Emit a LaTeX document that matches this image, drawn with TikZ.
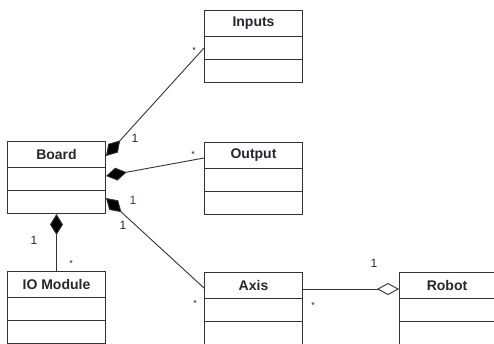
\documentclass[tikz,border=0pt]{standalone}
\usepackage{fontspec}
\setmainfont{Liberation Sans}
\usetikzlibrary{arrows.meta}
\definecolor{ln}{HTML}{333333}
\definecolor{tx}{HTML}{262630}
\definecolor{pu}{HTML}{6A2A5A}
\tikzset{
  cls/.style={draw=ln, line width=1pt, rectangle, minimum width=98pt, minimum height=72pt, anchor=north west, inner sep=0pt},
  ttl/.style={font=\fontsize{14}{16}\selectfont\bfseries, text=tx, inner sep=0pt},
  mult/.style={font=\fontsize{12}{14}\selectfont, text=tx, inner sep=0pt},
  star/.style={font=\fontsize{9}{10}\selectfont, text=tx, inner sep=0pt},
  conn/.style={draw=ln, line width=0.9pt},
  comp/.style={{Diamond[length=21pt,width=13pt,fill=black]}-},
  agg/.style={-{Diamond[open,length=22pt,width=12pt]}}
}
\newcommand{\compartments}[1]{%
  \draw[draw=ln, line width=1pt] ([yshift=-26pt]#1.north west) -- ([yshift=-26pt]#1.north east);
  \draw[draw=ln, line width=1pt] ([yshift=-49pt]#1.north west) -- ([yshift=-49pt]#1.north east);
}
\begin{document}
\begin{tikzpicture}[x=1pt,y=-1pt]
\clip (0,0) rectangle (494,343);
\fill[white] (0,0) rectangle (494,343);
% class boxes
\node[cls] (inputs) at (204,10) {};
\node[cls] (output) at (204,142) {};
\node[cls] (board) at (7,141) {};
\node[cls] (iomod) at (7,271) {};
\node[cls] (axis) at (204,272) {};
\node[cls] (robot) at (399,272) {};
\compartments{inputs}
\compartments{output}
\compartments{board}
\compartments{iomod}
\compartments{axis}
\compartments{robot}
% titles
\node[ttl] (tInputs) at ([yshift=-13pt]inputs.north) {Inputs};
\node[ttl] (tOutput) at ([yshift=-13pt]output.north) {Output};
\node[ttl] (tBoard) at ([yshift=-13pt]board.north) {Board};
\node[ttl] (tIO) at ([yshift=-13pt]iomod.north) {IO Module};
\node[ttl] (tAxis) at ([yshift=-13pt]axis.north) {Axis};
\node[ttl] (tRobot) at ([yshift=-13pt]robot.north west) [anchor=center, xshift=48pt] {Robot};
% connectors
\draw[conn, comp] ([yshift=-15pt]board.north east) -- ([yshift=-38pt]inputs.north west);
\draw[conn, comp] ([yshift=-35pt]board.north east) -- ([yshift=-16pt]output.north west);
\draw[conn, comp] ([yshift=-57pt]board.north east) -- ([yshift=-16pt]axis.north west);
\draw[conn, {Diamond[length=21pt,width=13pt,fill=black]}-] (board.south) -- (iomod.north);
\draw[conn, agg] ([yshift=-17pt]axis.north east) -- ([yshift=-17pt]robot.north west);
% multiplicities
\node[mult] (m1) at (135,138) {1};
\node[star] (s1) at (194,50) {*};
\node[star] (s2) at (193,154) {*};
\node[mult, text=pu] (m2) at (133,200) {1};
\node[mult] (m3) at (123,225) {1};
\node[mult] (m4) at (34,240) {1};
\node[star] (s3) at (71,263) {*};
\node[star] (s4) at (195,303) {*};
\node[mult] (m5) at (374,263) {1};
\node[star] (s5) at (313,305) {*};
\end{tikzpicture}
\end{document}
